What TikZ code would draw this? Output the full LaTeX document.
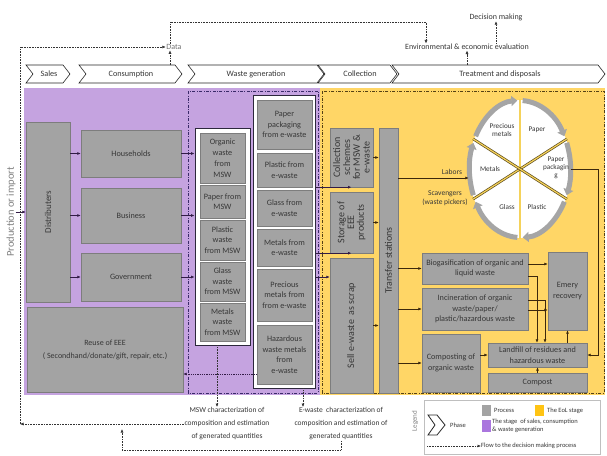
\documentclass[tikz,border=0pt]{standalone}
\usepackage{fontspec}
\setmainfont{Carlito}
\usetikzlibrary{arrows.meta,shapes.geometric}
\definecolor{purp}{RGB}{197,163,224}
\definecolor{yel}{RGB}{255,214,102}
\definecolor{boxg}{RGB}{163,163,163}
\definecolor{boxe}{RGB}{125,125,125}
\definecolor{txt}{RGB}{55,55,55}
\definecolor{parr}{RGB}{50,28,70}
\definecolor{yarr}{RGB}{60,40,12}
\definecolor{pframe}{RGB}{58,42,105}
\definecolor{yframe}{RGB}{85,65,20}
\definecolor{frm}{RGB}{45,40,60}
\definecolor{ringg}{RGB}{165,165,165}
\definecolor{divo}{RGB}{95,78,30}
\definecolor{divy}{RGB}{245,210,90}
\definecolor{legpur}{RGB}{170,118,222}
\definecolor{legyel}{RGB}{255,196,20}
\newcommand{\mychev}[5]{%
  \draw[chev] (#2,65) -- ({#3-7},65) -- (#3,74) -- ({#3-7},83) -- (#2,83) -- ({#2+7},74) -- cycle;
  \node[chevtxt] (#1) at (#4,74) {#5};}
\begin{document}
\begin{tikzpicture}[x=1pt,y=-1pt,
  box/.style={rectangle, fill=boxg, draw=boxe, line width=0.4pt, text=txt, font=\fontsize{8.2}{10.5}\selectfont, align=center, inner sep=1pt},
  rbox/.style={box, rotate=90, font=\fontsize{10}{9.8}\selectfont},
  frame/.style={rectangle, fill=white, draw=frm, line width=0.9pt, inner sep=0},
  chev/.style={fill=white, draw=black!85, line width=0.6pt},
  chevtxt/.style={text=txt, font=\fontsize{8.2}{9}\selectfont, inner sep=0},
  parrow/.style={draw=parr, line width=0.8pt, -{Latex[length=3.5pt,width=3pt]}},
  yarrow/.style={draw=yarr, line width=0.8pt, -{Latex[length=3.5pt,width=3pt]}},
  flow/.style={draw=black!80, densely dotted, line width=0.6pt, -{Latex[length=3.5pt,width=3pt]}},
  lbl/.style={text=txt, font=\fontsize{7.5}{9}\selectfont, align=center, inner sep=0.5pt},
  wl/.style={text=txt, font=\fontsize{7.2}{8}\selectfont, align=center, inner sep=0},
  ring/.style={draw=ringg, line width=5pt, -{Triangle[length=6pt,width=10pt]}},
  divl/.style={draw=divo, double=divy, double distance=1.2pt, line width=0.7pt},
  lg/.style={text=txt, font=\fontsize{6.5}{8}\selectfont, inner sep=0, align=left}]
\useasboundingbox (0,0) rectangle (607,455);
\fill[white] (0,0) rectangle (607,455);

% phase chevrons
\mychev{csales}{26}{70}{49}{Sales}
\mychev{ccons}{79}{182}{131}{Consumption}
\mychev{cwaste}{188}{324}{256}{Waste generation}
\mychev{ccoll}{318}{397}{360}{Collection}
\mychev{ctreat}{392}{605}{500}{Treatment and disposals}

% regions
\fill[purp] (24,88) rectangle (320,395);
\fill[yel] (320,88) rectangle (605,395);
\draw[pframe, line width=0.8pt, dash pattern=on 3pt off 1.5pt on 0.8pt off 1.5pt] (188,91) rectangle (318,393);
\draw[yframe, line width=0.8pt, dash pattern=on 3pt off 1.5pt on 0.8pt off 1.5pt] (322,91) rectangle (604,393);

% sales / consumption
\node[box, rotate=90, minimum width=180, minimum height=44, font=\fontsize{9}{10}\selectfont] (dist) at (48,212) {Distributers};
\node[box, minimum width=100, minimum height=47] (hh) at (131,153.5) {Households};
\node[box, minimum width=100, minimum height=55] (bus) at (131,215.5) {Business};
\node[box, minimum width=100, minimum height=48] (gov) at (131,277) {Government};
\node[box, minimum width=156, minimum height=85, font=\fontsize{8}{13}\selectfont] (reuse) at (105,349.5) {Reuse of EEE\\( Secondhand/donate/gift, repair, etc.)};

% MSW frame
\node[frame, minimum width=55, minimum height=217] (mswf) at (222.5,236.5) {};
\node[box, minimum width=45, minimum height=50, font=\fontsize{8.2}{11}\selectfont] (morg) at (222.5,158) {Organic\\waste\\from\\MSW};
\node[box, minimum width=45, minimum height=33] (mpap) at (222.5,201.5) {Paper from\\MSW};
\node[box, minimum width=45, minimum height=40] (mpla) at (222.5,240) {Plastic\\waste\\from MSW};
\node[box, minimum width=45, minimum height=39] (mgla) at (222.5,281.5) {Glass\\waste\\from MSW};
\node[box, minimum width=45, minimum height=38] (mmet) at (222.5,322) {Metals\\waste\\from MSW};

% e-waste frame
\node[frame, minimum width=62, minimum height=293] (ewf) at (284.5,241.5) {};
\node[box, minimum width=55, minimum height=49] (ppack) at (284.5,124.5) {Paper\\packaging\\from e-waste};
\node[box, minimum width=55, minimum height=34] (eplas) at (284.5,170) {Plastic from\\e-waste};
\node[box, minimum width=55, minimum height=36] (egla) at (284.5,208) {Glass from\\e-waste};
\node[box, minimum width=55, minimum height=37] (emet) at (284.5,247.5) {Metals from\\e-waste};
\node[box, minimum width=55, minimum height=52] (eprec) at (284.5,295) {Precious\\metals from\\from e-waste};
\node[box, minimum width=55, minimum height=59] (ehaz) at (284.5,354.5) {Hazardous\\waste metals\\from\\e-waste};

% collection
\node[rbox, minimum width=59, minimum height=43] (colsch) at (351.5,157.5) {Collection\\schemes\\for MSW \&\\e-waste};
\node[rbox, minimum width=61, minimum height=43] (stor) at (351.5,222.5) {Storage of\\EEE\\products};
\node[rbox, minimum width=135, minimum height=43] (sell) at (351.5,325.5) {Sell e-waste\ \ as scrap};
\node[rbox, minimum width=265, minimum height=19] (transfer) at (388.5,260.5) {Transfer stations};

% treatment
\node[box, minimum width=106, minimum height=31] (biogas) at (475,268.5) {Biogasification of organic and\\liquid waste};
\node[box, minimum width=106, minimum height=42] (incin) at (475,309) {Incineration of organic\\waste/paper/\\plastic/hazardous waste};
\node[box, minimum width=58, minimum height=58] (compg) at (451,363) {Composting of\\organic waste};
\node[box, minimum width=39, minimum height=78] (emery) at (567.5,291) {Emery\\recovery};
\node[box, minimum width=99, minimum height=24] (landfill) at (537.5,355) {Landfill of residues and\\hazardous waste};
\node[box, minimum width=99, minimum height=19] (compost) at (537.5,382.5) {Compost};

% wheel
\node[ellipse, fill=white, minimum width=102, minimum height=138, inner sep=0] (wheel) at (520,169) {};
\foreach \a/\b in {-90/-25.5, -25.5/25.5, 25.5/90, 90/154.5, 154.5/205.5, 205.5/270}{
  \pgfmathsetmacro\sa{\a+3}
  \pgfmathsetmacro\sb{\b-3}
  \draw[ring] (wheel.center) ++(\sa:50.5 and 68.5) arc[start angle=\sa, end angle=\sb, x radius=50.5, y radius=68.5];
}
\draw[divl] (520,99) -- (520,239);
\draw[divl] (566.9,138.9) -- (473.1,199.1);
\draw[divl] (566.9,199.1) -- (473.1,138.9);
\node[wl] (wprec) at (502,130) {Precious\\metals};
\node[wl] (wpap) at (537,130) {Paper};
\node[wl] (wpack) at (556,168) {Paper\\packagin\\g};
\node[wl] (wplas) at (537,207) {Plastic};
\node[wl] (wgla) at (507,207) {Glass};
\node[wl] (wmet) at (490,169) {Metals};
\node[lbl] (labors) at (452,172) {Labors};
\node[lbl] (scav) at (445,198) {Scavengers\\(waste pickers)};

% arrows purple
\draw[parrow] (dist.south |- hh.west) -- (hh.west);
\draw[parrow] (dist.south |- bus.west) -- (bus.west);
\draw[parrow] (dist.south |- gov.west) -- (gov.west);
\draw[parrow] (hh.east) -- (mswf.west |- hh.east);
\draw[parrow] (bus.east) -- (mswf.west |- bus.east);
\draw[parrow] (gov.east) -- (mswf.west |- gov.east);
\coordinate (hz) at (0,374);
\draw[parr, densely dotted, line width=0.8pt, -{Latex[length=3.5pt,width=3pt]}] (ehaz.west |- hz) -- (reuse.east |- hz);
\coordinate (yE3) at (0,277);
\draw[parrow] (ewf.east |- colsch.west) -- (colsch.west);
\draw[parrow] (ewf.east |- stor.west) -- (stor.west);
\draw[parrow] (ewf.east |- yE3) -- (sell.north |- yE3);

% arrows yellow
\draw[yarrow] (colsch.south) -- (transfer.north |- colsch.south);
\draw[yarrow] (stor.south) -- (transfer.north |- stor.south);
\draw[yarrow] (sell.south) -- (transfer.north |- sell.south);
\draw[yarrow] (transfer.south |- biogas.west) -- (biogas.west);
\draw[yarrow] (transfer.south |- incin.west) -- (incin.west);
\draw[yarrow] (transfer.south |- compg.west) -- (compg.west);
\coordinate (lab) at (0,178);
\draw[yarrow] (transfer.south |- lab) -- (wheel.west |- lab);
\coordinate (yB1) at (0,264);
\coordinate (yB2) at (0,276);
\coordinate (yI1) at (0,300);
\coordinate (yI2) at (0,310);
\coordinate (xB) at (537,0);
\coordinate (xI) at (545,0);
\draw[yarrow] (biogas.east |- yB1) -- (emery.west |- yB1);
\draw[yarrow] (biogas.east |- yB2) -| (xB |- landfill.north);
\draw[yarrow] (incin.east |- yI1) -| (xI |- landfill.north);
\draw[yarrow] (incin.east |- yI2) -- (emery.west |- yI2);
\draw[yarrow] (landfill.north -| emery.south) -- (emery.south);
\draw[yarrow] (compost.north) -- (landfill.south);
\draw[yarrow] (compg.east |- landfill.west) -- (landfill.west);
\coordinate (rr) at (598,169);
\draw[yarrow] (wheel.east) -- (rr) |- (landfill.east);

% top labels and data flows
\node[lbl, font=\fontsize{8}{9}\selectfont] (dec) at (496,17) {Decision making};
\node[lbl, font=\fontsize{8}{9}\selectfont] (env) at (467,47) {Environmental \& economic evaluation};
\node[lbl, font=\fontsize{8}{9}\selectfont, text=black!55] (data) at (174,47) {Data};
\node[rotate=90, text=black!50, font=\fontsize{10.5}{12}\selectfont, inner sep=0] (prod) at (11,212) {Production or import};
\draw[parrow] (prod.south) -- (dist.north);

\node[lbl, font=\fontsize{7.5}{13}\selectfont] (mswtxt) at (227,424) {MSW characterization of\\composition and estimation\\of generated quantities};
\node[lbl, font=\fontsize{7.5}{13}\selectfont] (etxt) at (341,424) {E-waste\ \ characterization of\\composition and estimation of\\generated quantities};

\coordinate (lb) at (20,424);
\coordinate (lt) at (20,47);
\draw[flow] (mswtxt.west) -- (lb);
\draw[flow] (lb) -- (lt) -- (data.west);
\coordinate (cp) at (170,65);
\draw[flow] (cp) -- (cp |- data.south);
\coordinate (dtl) at (170,22);
\coordinate (dtr) at (426,22);
\draw[flow] (cp |- data.north) -- (dtl) -- (dtr) -- (dtr |- env.north);
\coordinate (tp) at (467,65);
\draw[flow] (tp) -- (env.south);
\draw[flow] (env.north -| dec.south) -- (dec.south);
\coordinate (xm) at (217,0);
\coordinate (xe) at (303,0);
\draw[flow] (xm |- mswf.south) -- (xm |- mswtxt.north);
\draw[flow] (xe |- ewf.south) -- (xe |- etxt.north);
\coordinate (br) at (341,450);
\coordinate (bl) at (122,450);
\coordinate (bu) at (122,429);
\draw[flow] (etxt.south -| br) -- (br) -- (bl) -- (bu);

% legend
\node[draw=black!25, fill=white, line width=0.5pt, minimum width=176, minimum height=54, inner sep=0] (legbox) at (512,427) {};
\node[rotate=90, text=black!50, font=\fontsize{7}{8}\selectfont, inner sep=0] (legt) at (415,421) {Legend};
\draw[chev, line width=0.8pt] (428,415) -- (437,415) -- (445,425) -- (437,435) -- (428,435) -- (435,425) -- cycle;
\node[lg] (lphase) at (458,425) {Phase};
\node[fill=boxg, minimum width=9, minimum height=11, inner sep=0] (lgray) at (486,410.5) {};
\node[lg, anchor=west] (lproc) at (494,410.5) {Process};
\node[fill=legyel, minimum width=9, minimum height=11, inner sep=0] (lyel) at (539,410.5) {};
\node[lg, anchor=west] (leol) at (547,410.5) {The EoL stage};
\node[fill=legpur, minimum width=9, minimum height=12, inner sep=0] (lpur) at (486,426) {};
\node[lg, anchor=west] (lpurt) at (492,426) {The stage\ \ of sales, consumption\\\& waste generation};
\coordinate (lf1) at (427,446);
\node[lg, anchor=west] (lflow) at (481,446) {Flow to the decision making process};
\draw[flow] (lf1) -- (lflow.west);
\end{tikzpicture}
\end{document}
